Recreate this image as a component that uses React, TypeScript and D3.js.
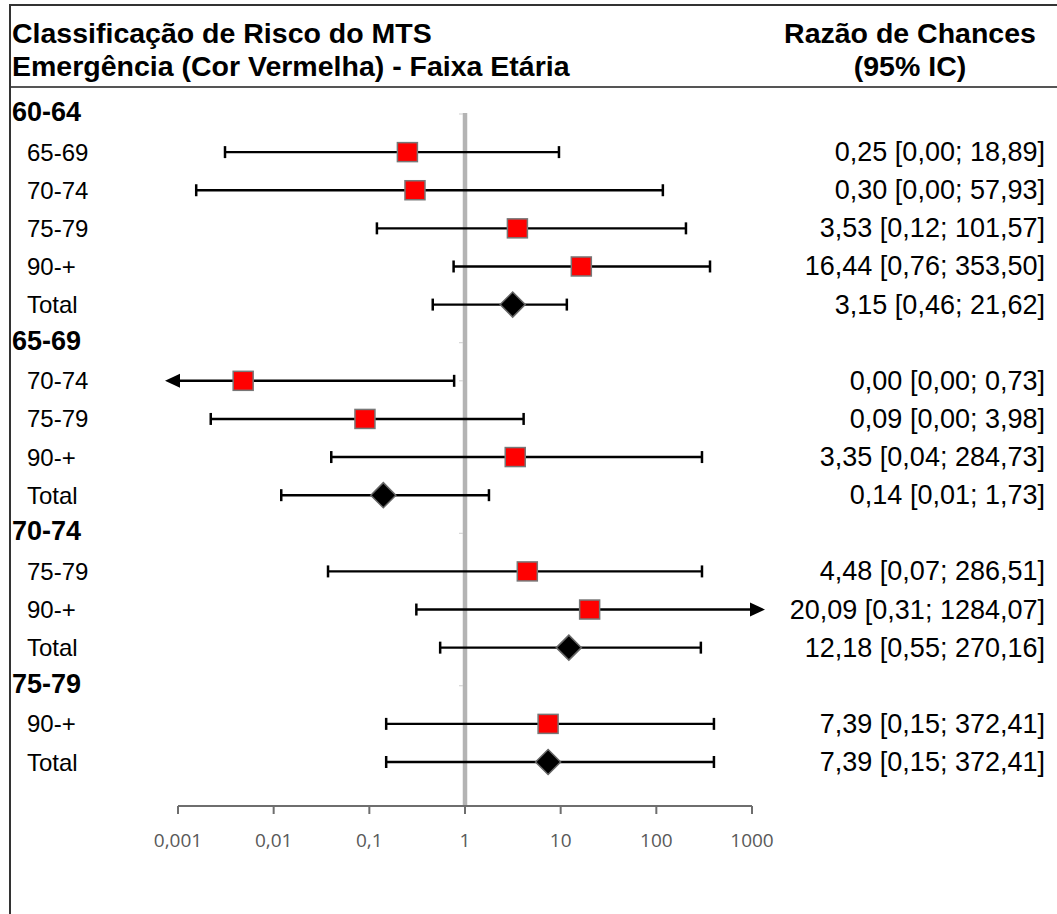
import React from "react";
import * as d3 from "d3";

const titleLines = ["Classificação de Risco do MTS", "Emergência (Cor Vermelha) - Faixa Etária"];
const rightHeader = ["Razão de Chances", "(95% IC)"];

const rowLabels = ["60-64", "65-69", "70-74", "75-79", "90-+", "Total", "65-69", "70-74", "75-79", "90-+", "Total", "70-74", "75-79", "90-+", "Total", "75-79", "90-+", "Total"];
const rowKinds = ["group", "study", "study", "study", "study", "total", "group", "study", "study", "study", "total", "group", "study", "study", "total", "group", "study", "total"];
const orValues = [null, 0.25, 0.30, 3.53, 16.44, 3.15, null, 0.0048, 0.09, 3.35, 0.14, null, 4.48, 20.09, 12.18, null, 7.39, 7.39];
const ciLower = [null, 0.0031, 0.00155, 0.12, 0.76, 0.46, null, 0.0001, 0.0022, 0.04, 0.012, null, 0.037, 0.31, 0.55, null, 0.15, 0.15];
const ciUpper = [null, 9.6, 117, 204, 364, 11.6, null, 0.77, 4.1, 300, 1.78, null, 300, 1284.07, 292, null, 400, 400];
const valueTexts = ["", "0,25 [0,00; 18,89]", "0,30 [0,00; 57,93]", "3,53 [0,12; 101,57]", "16,44 [0,76; 353,50]", "3,15 [0,46; 21,62]", "", "0,00 [0,00; 0,73]", "0,09 [0,00; 3,98]", "3,35 [0,04; 284,73]", "0,14 [0,01; 1,73]", "", "4,48 [0,07; 286,51]", "20,09 [0,31; 1284,07]", "12,18 [0,55; 270,16]", "", "7,39 [0,15; 372,41]", "7,39 [0,15; 372,41]"];

const axisTicks = [0.001, 0.01, 0.1, 1, 10, 100, 1000];
const axisTickLabels = ["0,001", "0,01", "0,1", "1", "10", "100", "1000"];

const W = 1057;
const H = 914;
const SANS = "'Liberation Sans', Arial, sans-serif";

export default function App() {
  const x = d3.scaleLog().domain([0.001, 1000]).range([178, 752]);
  const y = d3.scaleLinear().domain([0, 17]).range([114, 762]);
  const axisY = 806;
  const xMin = x(0.001);
  const xMax = x(1000);
  const arrowLen = 13;

  return (
    <svg width={W} height={H} style={{ position: "absolute", left: 0, top: 0, background: "#fff" }}>
      {/* frame */}
      <line x1={10} x2={W} y1={5} y2={5} stroke="#333" strokeWidth={2} />
      <line x1={10} x2={W} y1={87} y2={87} stroke="#555" strokeWidth={2} />
      <line x1={10} x2={10} y1={4} y2={H} stroke="#333" strokeWidth={2} />

      {/* title */}
      {titleLines.map((t, i) => (
        <text key={t} x={12} y={43 + i * 33} fontFamily={SANS} fontWeight="bold" fontSize={28.5} fill="#000">{t}</text>
      ))}
      {rightHeader.map((t, i) => (
        <text key={t} x={910} y={43 + i * 33} textAnchor="middle" fontFamily={SANS} fontWeight="bold" fontSize={28.5} fill="#000">{t}</text>
      ))}

      {/* reference line at 1 */}
      <line x1={x(1)} x2={x(1)} y1={113} y2={axisY} stroke="#b4b4b4" strokeWidth={4.5} />
      {rowLabels.map((_, i) => (
        <line key={"yt" + i} x1={x(1) - 6} x2={x(1) - 2} y1={y(i)} y2={y(i)} stroke="#cfcfcf" strokeWidth={1} />
      ))}

      {/* rows */}
      {rowLabels.map((lab, i) => {
        const kind = rowKinds[i];
        if (kind === "group") {
          return (
            <text key={"g" + i} x={12} y={y(i) - 2} dominantBaseline="central" fontFamily={SANS} fontWeight="bold" fontSize={27} fill="#000">{lab}</text>
          );
        }
        const or = orValues[i] as number;
        const lo = ciLower[i] as number;
        const hi = ciUpper[i] as number;
        const cy = y(i);
        const leftArrow = lo < 0.001;
        const rightArrow = hi > 1000;
        const xl = leftArrow ? xMin - arrowLen : x(lo);
        const xr = rightArrow ? xMax + arrowLen : x(hi);
        const cx = x(or);
        return (
          <g key={"r" + i}>
            <text x={27} y={cy} dominantBaseline="central" fontFamily={SANS} fontSize={24} fill="#000">{lab}</text>
            <line x1={leftArrow ? xl + 10 : xl} x2={rightArrow ? xr - 10 : xr} y1={cy} y2={cy} stroke="#000" strokeWidth={2.4} />
            {leftArrow ? (
              <path d={`M${xl},${cy} L${xl + 15},${cy - 7} L${xl + 15},${cy + 7} Z`} fill="#000" />
            ) : (
              <line x1={xl} x2={xl} y1={cy - 6} y2={cy + 6} stroke="#000" strokeWidth={2.5} />
            )}
            {rightArrow ? (
              <path d={`M${xr},${cy} L${xr - 15},${cy - 7} L${xr - 15},${cy + 7} Z`} fill="#000" />
            ) : (
              <line x1={xr} x2={xr} y1={cy - 6} y2={cy + 6} stroke="#000" strokeWidth={2.5} />
            )}
            {kind === "study" ? (
              <rect x={cx - 10} y={cy - 9.5} width={20} height={19} fill="#ff0000" stroke="#777" strokeWidth={1.5} />
            ) : (
              <path d={`M${cx - 12.5},${cy} L${cx},${cy - 12.5} L${cx + 12.5},${cy} L${cx},${cy + 12.5} Z`} fill="#000" stroke="#666" strokeWidth={1.5} />
            )}
            <text x={1045} y={cy} textAnchor="end" dominantBaseline="central" fontFamily={SANS} fontSize={27} fill="#000">{valueTexts[i]}</text>
          </g>
        );
      })}

      {/* x axis */}
      <line x1={xMin} x2={xMax} y1={axisY} y2={axisY} stroke="#6e6e6e" strokeWidth={2} />
      {axisTicks.map((t, i) => (
        <g key={"t" + t}>
          <line x1={x(t)} x2={x(t)} y1={axisY} y2={axisY + 8} stroke="#6e6e6e" strokeWidth={2} />
          <text x={x(t)} y={840} textAnchor="middle" dominantBaseline="central" fontFamily="'Open Sans', sans-serif" fontSize={19} fill="#595959">{axisTickLabels[i]}</text>
        </g>
      ))}
    </svg>
  );
}
